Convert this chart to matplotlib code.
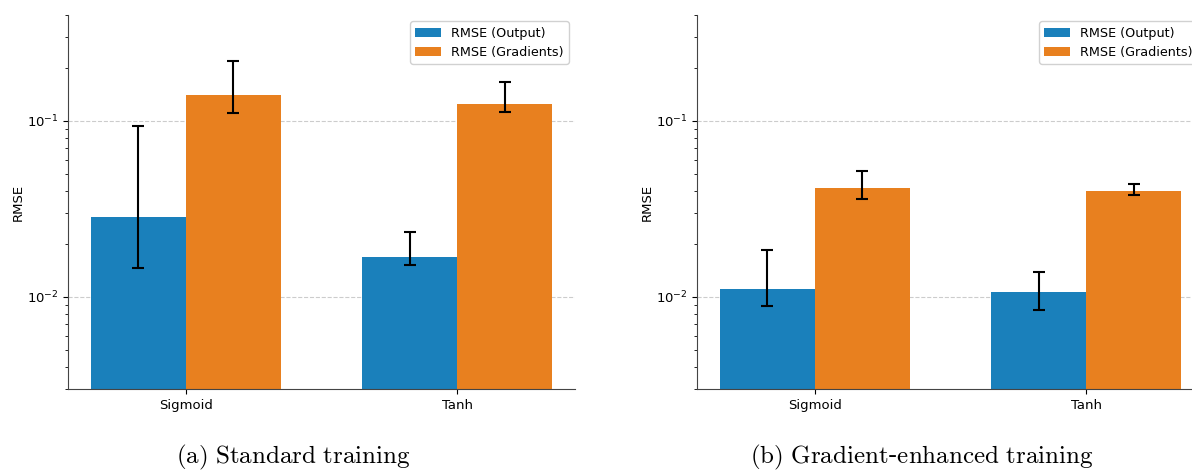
import numpy as np
import matplotlib.pyplot as plt

plt.rcParams['mathtext.fontset'] = 'cm'

categories = ['Sigmoid', 'Tanh']
labels = ['RMSE (Output)', 'RMSE (Gradients)']
captions = ['(a) Standard training', '(b) Gradient-enhanced training']

# Standard training: mean, lower end, upper end of error bar
std_out = [0.0284, 0.0168]
std_out_lo = [0.01456, 0.0152]
std_out_hi = [0.0933, 0.0235]
std_grad = [0.140, 0.1244]
std_grad_lo = [0.1106, 0.1131]
std_grad_hi = [0.218, 0.1666]

# Gradient-enhanced training
ge_out = [0.01106, 0.01063]
ge_out_lo = [0.00894, 0.00844]
ge_out_hi = [0.0185, 0.01381]
ge_grad = [0.0415, 0.0399]
ge_grad_lo = [0.0360, 0.0380]
ge_grad_hi = [0.0518, 0.0439]

colors = ['#1a80bb', '#e8801f']
width = 0.35

fig = plt.figure(figsize=(11.92, 4.70), dpi=100)
ax1 = fig.add_axes([68 / 1192, 1 - 389 / 470, 507 / 1192, 374 / 470])
ax2 = fig.add_axes([697 / 1192, 1 - 389 / 470, 507 / 1192, 374 / 470])

panels = [
    (ax1, std_out, std_out_lo, std_out_hi, std_grad, std_grad_lo, std_grad_hi),
    (ax2, ge_out, ge_out_lo, ge_out_hi, ge_grad, ge_grad_lo, ge_grad_hi),
]

x = np.arange(len(categories))
for ax, out, out_lo, out_hi, grad, grad_lo, grad_hi in panels:
    out = np.array(out)
    grad = np.array(grad)
    err_out = [out - np.array(out_lo), np.array(out_hi) - out]
    err_grad = [grad - np.array(grad_lo), np.array(grad_hi) - grad]
    ekw = dict(elinewidth=1.5, capthick=1.5, ecolor='black')
    ax.bar(x - width / 2, out, width, yerr=err_out, capsize=4, color=colors[0],
           label=labels[0], error_kw=ekw)
    ax.bar(x + width / 2, grad, width, yerr=err_grad, capsize=4, color=colors[1],
           label=labels[1], error_kw=ekw)
    ax.set_yscale('log')
    ax.set_ylim(0.003, 0.4)
    ax.set_xticks(x)
    ax.set_xticklabels(categories, fontsize=9.5)
    ax.tick_params(axis='y', labelsize=9.5)
    ax.set_ylabel('RMSE', fontsize=9.5, labelpad=1.5)
    ax.yaxis.grid(True, which='major', linestyle='--', color='#cccccc', linewidth=0.8)
    ax.set_axisbelow(True)
    for s in ['top', 'right']:
        ax.spines[s].set_visible(False)
    for s in ['left', 'bottom']:
        ax.spines[s].set_color('#444444')
    ax.legend(loc='upper right', fontsize=9.2, framealpha=0.9)

fig.text(293 / 1192, 1 - 457 / 470, r'$\mathrm{(a)\ Standard\ training}$',
         ha='center', va='center', fontsize=18)
fig.text(922 / 1192, 1 - 457 / 470, r'$\mathrm{(b)\ Gradient}$-$\mathrm{enhanced\ training}$',
         ha='center', va='center', fontsize=18)

fig.savefig('out.png', dpi=100)
